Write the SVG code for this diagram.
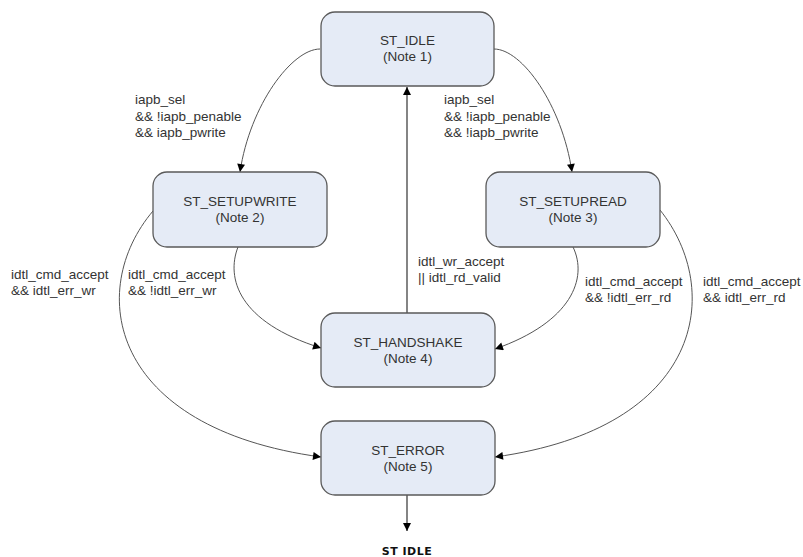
<svg xmlns="http://www.w3.org/2000/svg" width="803" height="557" viewBox="0 0 803 557">
<style>
.node rect{fill:#e5ebf6;stroke:#5a5a5a;stroke-width:1.3}
.node text{font-family:"Liberation Sans",Arial,sans-serif;font-size:13.5px;fill:#333;text-anchor:middle}
.lbl{font-family:"Liberation Sans",Arial,sans-serif;font-size:13.5px;fill:#333}
#connectors path{fill:none;stroke:#555;stroke-width:1}
#connectors .v{stroke:#666;stroke-width:1.6}
</style>
<defs>
<marker id="ah" viewBox="0 0 10 10" refX="10" refY="5" markerWidth="9" markerHeight="8" markerUnits="userSpaceOnUse" orient="auto">
<path d="M0,0 L10,5 L0,10 z" fill="#000"/>
</marker>
</defs>
<rect width="803" height="557" fill="#fff"/>
<g id="connectors">
<path d="M320,49 C292,49 250,105 240,172" marker-end="url(#ah)"/>
<path d="M494,49 C522,49 562,105 572,172" marker-end="url(#ah)"/>
<path class="v" d="M407,313 L407,87" marker-end="url(#ah)"/>
<path d="M238,247 C226,278 238,322 321,348" marker-end="url(#ah)"/>
<path d="M573,247 C588,278 572,322 495,349" marker-end="url(#ah)"/>
<path d="M153,211 C86,290 108,428 321,457" marker-end="url(#ah)"/>
<path d="M660,210 C724,290 704,428 495,457" marker-end="url(#ah)"/>
<path class="v" d="M407,495 L407,531" marker-end="url(#ah)"/>
</g>
<g id="labels">
<text class="lbl" x="135" y="104">iapb_sel</text>
<text class="lbl" x="135" y="120.5">&amp;&amp; !iapb_penable</text>
<text class="lbl" x="135" y="137">&amp;&amp; iapb_pwrite</text>
<text class="lbl" x="444" y="104">iapb_sel</text>
<text class="lbl" x="444" y="120.5">&amp;&amp; !iapb_penable</text>
<text class="lbl" x="444" y="137">&amp;&amp; !iapb_pwrite</text>
<text class="lbl" x="11" y="279">idtl_cmd_accept</text>
<text class="lbl" x="11" y="295">&amp;&amp; idtl_err_wr</text>
<text class="lbl" x="128" y="279">idtl_cmd_accept</text>
<text class="lbl" x="128" y="295">&amp;&amp; !idtl_err_wr</text>
<text class="lbl" x="418" y="266">idtl_wr_accept</text>
<text class="lbl" x="418" y="282">|| idtl_rd_valid</text>
<text class="lbl" x="585" y="286">idtl_cmd_accept</text>
<text class="lbl" x="585" y="302">&amp;&amp; !idtl_err_rd</text>
<text class="lbl" x="703" y="286">idtl_cmd_accept</text>
<text class="lbl" x="703" y="302">&amp;&amp; idtl_err_rd</text>
<text x="407" y="555" font-family="DejaVu Sans,Verdana,sans-serif" font-size="11" font-weight="bold" fill="#111" text-anchor="middle" letter-spacing="0.5">ST IDLE</text>
</g>
<g id="st_idle" class="node"><rect x="321" y="12" width="173" height="74" rx="14"/><text x="407.5" y="45">ST_IDLE</text><text x="407.5" y="61">(Note 1)</text></g>
<g id="st_setupwrite" class="node"><rect x="153" y="172" width="174" height="75" rx="14"/><text x="240" y="206">ST_SETUPWRITE</text><text x="240" y="222">(Note 2)</text></g>
<g id="st_setupread" class="node"><rect x="486" y="172" width="174" height="75" rx="14"/><text x="573" y="206">ST_SETUPREAD</text><text x="573" y="222">(Note 3)</text></g>
<g id="st_handshake" class="node"><rect x="321" y="313" width="174" height="74" rx="14"/><text x="408" y="347">ST_HANDSHAKE</text><text x="408" y="363">(Note 4)</text></g>
<g id="st_error" class="node"><rect x="321" y="421" width="174" height="74" rx="14"/><text x="408" y="455">ST_ERROR</text><text x="408" y="471">(Note 5)</text></g>
</svg>
